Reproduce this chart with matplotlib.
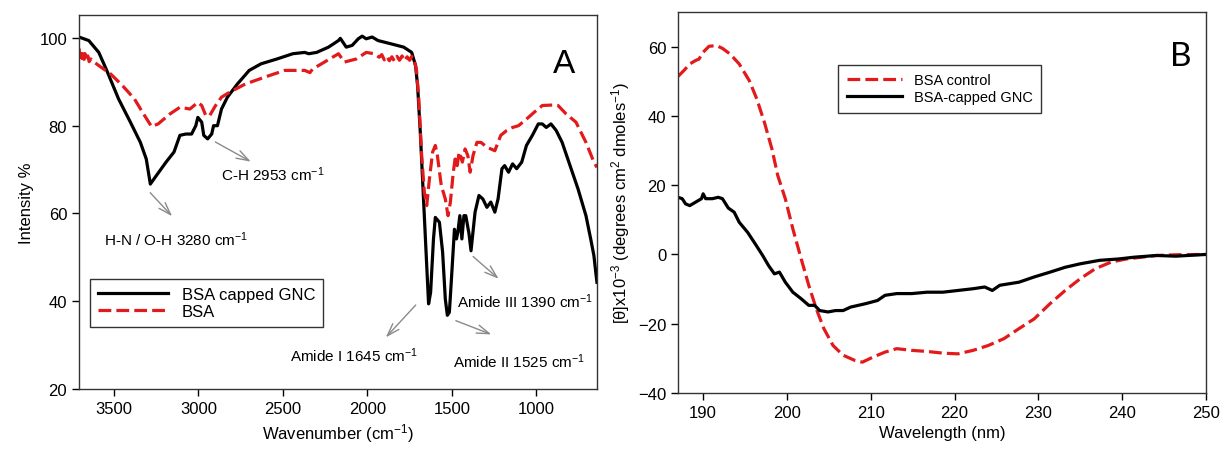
import numpy as np
import matplotlib
matplotlib.use("Agg")
import matplotlib.pyplot as plt

plt.rcParams['font.family'] = ['Liberation Sans', 'DejaVu Sans']
plt.rcParams['mathtext.default'] = 'regular'

## FTIR data (panel A)
wn_gnc = [3706, 3648, 3589, 3542, 3472, 3402, 3343, 3308, 3284, 3249, 3191, 3144, 3109, 3074,
          3040, 3015, 3003, 2980, 2968, 2945, 2921, 2910, 2887, 2863, 2828, 2769, 2699, 2629,
          2535, 2441, 2371, 2347, 2300, 2230, 2171, 2160, 2125, 2090, 2054, 2031, 2007, 1972,
          1937, 1855, 1785, 1738, 1715, 1703, 1687, 1668, 1649, 1638, 1626, 1609, 1598, 1574,
          1555, 1539, 1527, 1515, 1504, 1485, 1473, 1465, 1453, 1441, 1429, 1418, 1399, 1387,
          1363, 1340, 1317, 1293, 1270, 1246, 1227, 1204, 1188, 1165, 1141, 1117, 1087, 1059,
          1024, 989, 965, 942, 914, 883, 848, 801, 754, 707, 679, 660, 649, 642]
int_gnc = [100.2, 99.4, 96.7, 92.6, 86.1, 80.8, 76.2, 72.4, 66.7, 68.6, 71.7, 74.0, 77.8, 78.1,
           78.1, 80.0, 81.9, 80.8, 77.8, 77.0, 78.1, 80.0, 80.0, 83.8, 86.5, 89.5, 92.6, 94.1,
           95.2, 96.4, 96.7, 96.4, 96.7, 97.9, 99.4, 99.9, 97.9, 98.3, 99.8, 100.4, 99.8, 100.2,
           99.4, 98.6, 97.9, 96.7, 93.7, 89.1, 78.5, 63.3, 48.1, 39.4, 42.0, 54.2, 59.1, 58.0,
           51.2, 40.5, 36.8, 37.5, 44.3, 56.4, 54.2, 55.7, 59.5, 54.2, 59.5, 59.5, 55.4, 51.5,
           60.3, 64.1, 63.3, 61.4, 62.6, 60.3, 63.3, 70.2, 70.9, 69.4, 71.3, 70.2, 71.7, 75.5,
           77.8, 80.4, 80.4, 79.6, 80.4, 78.9, 76.2, 70.9, 65.6, 59.5, 54.2, 50.4, 46.6, 44.3]

wn_bsa = [3706, 3700, 3694, 3688, 3682, 3676, 3670, 3662, 3654, 3646, 3636, 3620, 3589, 3519,
          3448, 3378, 3331, 3277, 3238, 3167, 3109, 3050, 3003, 2980, 2956, 2933, 2898, 2863,
          2816, 2722, 2582, 2488, 2371, 2340, 2324, 2254, 2171, 2136, 2066, 2007, 1961, 1930,
          1915, 1900, 1885, 1870, 1855, 1840, 1825, 1810, 1795, 1780, 1765, 1750, 1738, 1726,
          1710, 1696, 1679, 1663, 1649, 1633, 1614, 1598, 1586, 1563, 1539, 1523, 1509, 1492,
          1481, 1469, 1457, 1438, 1422, 1406, 1392, 1375, 1352, 1328, 1293, 1246, 1211, 1176,
          1141, 1106, 1059, 1012, 965, 907, 872, 825, 766, 707, 660, 642]
int_bsa = [97.6, 95.6, 97.2, 95.3, 96.9, 95.1, 96.4, 94.9, 95.9, 94.6, 95.2, 94.6, 93.7, 91.8,
           89.1, 86.1, 83.1, 79.8, 80.4, 82.7, 84.2, 83.8, 85.3, 84.6, 82.3, 82.3, 84.6, 86.5,
           87.6, 89.5, 91.4, 92.6, 92.6, 92.1, 92.9, 94.5, 96.4, 94.5, 95.2, 96.7, 96.4, 95.6,
           96.2, 95.0, 95.8, 94.8, 95.7, 94.7, 95.8, 94.9, 95.9, 94.8, 95.7, 94.9, 95.8, 95.2,
           92.9, 86.1, 73.2, 64.8, 61.8, 67.9, 74.0, 75.5, 73.2, 66.4, 63.3, 59.5, 62.6, 69.4,
           72.4, 70.9, 74.0, 71.7, 74.7, 73.2, 69.4, 73.2, 76.2, 76.2, 75.1, 74.3, 77.8, 78.9,
           79.6, 80.0, 81.5, 83.1, 84.6, 84.7, 84.6, 82.7, 80.8, 76.2, 71.7, 70.5]

## CD data (panel B)
wl_ctrl = [187.0, 187.7, 188.4, 189.1, 189.5, 190.0, 190.7, 191.6, 192.3, 193.2, 194.3, 195.5,
           196.4, 197.3, 198.2, 198.9, 199.8, 200.7, 201.7, 202.6, 203.5, 204.4, 205.5, 206.7,
           208.1, 209.0, 210.3, 211.7, 213.1, 214.9, 216.7, 218.6, 220.4, 222.2, 224.0, 225.9,
           227.7, 229.5, 231.4, 233.2, 235.0, 236.8, 238.7, 240.5, 242.3, 244.1, 246.4, 250.0]
cd_ctrl = [51.4, 53.1, 55.0, 56.0, 56.4, 58.4, 60.1, 60.3, 59.5, 57.9, 55.0, 50.2,
           44.9, 38.2, 30.5, 22.8, 16.1, 7.4, -1.3, -8.9, -15.7, -21.4, -26.3, -29.1,
           -30.6, -31.1, -29.6, -28.2, -27.2, -27.7, -28.0, -28.5, -28.7, -27.7, -26.3, -24.3,
           -21.4, -18.6, -14.2, -10.4, -7.0, -4.1, -2.2, -1.3, -0.8, -0.3, -0.1, 0.0]

wl_gnc = [187.0, 187.5, 187.9, 188.4, 189.1, 189.8, 190.0, 190.3, 191.1, 191.8, 192.3, 193.0,
          193.7, 194.3, 195.3, 196.2, 197.1, 197.8, 198.5, 199.1, 199.8, 200.7, 201.7, 202.6,
          203.3, 203.9, 204.9, 205.8, 206.7, 207.6, 208.5, 209.4, 210.8, 211.7, 213.1, 214.9,
          216.7, 218.6, 220.4, 222.2, 223.6, 224.5, 225.4, 227.7, 229.5, 231.4, 233.2, 235.0,
          237.3, 239.6, 241.4, 244.1, 246.4, 250.0]
cd_gnc = [16.5, 16.1, 14.6, 14.1, 15.1, 16.1, 17.5, 16.1, 16.1, 16.5, 16.1, 13.4,
          12.2, 9.3, 6.4, 3.1, -0.3, -3.2, -5.6, -5.1, -8.0, -10.9, -12.8, -14.7,
          -14.7, -16.2, -16.6, -16.2, -16.2, -15.2, -14.7, -14.2, -13.3, -11.8, -11.3, -11.3,
          -10.9, -10.9, -10.4, -9.9, -9.4, -10.4, -8.9, -8.0, -6.5, -5.1, -3.7, -2.7,
          -1.7, -1.3, -0.8, -0.3, -0.5, 0.0]

red = '#e31a1c'
dash = (0, (4, 1.6))
fs = 12

fig = plt.figure(figsize=(12.21, 4.56), dpi=100)

# ---- panel A
axA = fig.add_axes([0.0647, 0.1447, 0.4242, 0.820])
axA.plot(wn_gnc, int_gnc, color='k', lw=2.3, label='BSA capped GNC')
axA.plot(wn_bsa, int_bsa, color=red, lw=2.3, ls=dash, label='BSA')
axA.set_xlim(3706, 642)
axA.set_ylim(20, 105.2)
axA.set_xticks([3500, 3000, 2500, 2000, 1500, 1000])
axA.set_yticks([20, 40, 60, 80, 100])
axA.set_xlabel('Wavenumber (cm$^{-1}$)', fontsize=fs)
axA.set_ylabel('Intensity %', fontsize=fs)
axA.text(836, 94.1, 'A', fontsize=24, ha='center', va='center')

arrow = dict(arrowstyle='->,head_length=0.9,head_width=0.3', color='#8a8a8a', lw=1)
notes = [('C-H 2953 cm$^{-1}$', (2914, 76.6), (2675, 71.5), (2558, 69.0)),
         ('H-N / O-H 3280 cm$^{-1}$', (3296, 65.2), (3144, 58.9), (3132, 54.2)),
         ('Amide I 1645 cm$^{-1}$', (1703, 39.6), (1902, 31.3), (2078, 27.8)),
         ('Amide II 1525 cm$^{-1}$', (1492, 35.8), (1251, 32.2), (1105, 26.5)),
         ('Amide III 1390 cm$^{-1}$', (1387, 50.6), (1211, 44.7), (1070, 40.2))]
for txt, p0, p1, pt in notes:
    axA.annotate('', xy=p1, xytext=p0, arrowprops=arrow)
    axA.text(pt[0], pt[1], txt, fontsize=11, ha='center', va='center')

legA = axA.legend(loc='lower left', bbox_to_anchor=(0.021, 0.166), borderaxespad=0,
                  fontsize=fs, handlelength=4.2, fancybox=False, edgecolor='#333333',
                  framealpha=1, borderpad=0.5, labelspacing=0.1)
legA.get_frame().set_linewidth(1)

# ---- panel B
axB = fig.add_axes([0.5553, 0.136, 0.4324, 0.8355])
axB.plot(wl_ctrl, cd_ctrl, color=red, lw=2.3, ls=dash, label='BSA control')
axB.plot(wl_gnc, cd_gnc, color='k', lw=2.3, label='BSA-capped GNC')
axB.set_xlim(187, 250)
axB.set_ylim(-40, 70)
axB.set_xticks([190, 200, 210, 220, 230, 240, 250])
axB.set_yticks([-40, -20, 0, 20, 40, 60])
axB.set_xlabel('Wavelength (nm)', fontsize=fs)
axB.set_ylabel('[\u03b8]x10$^{-3}$ (degrees cm$^{2}$ dmoles$^{-1}$)', fontsize=fs)
axB.text(247, 57.4, 'B', fontsize=24, ha='center', va='center', family=['Lato', 'DejaVu Sans'])
legB = axB.legend(loc='lower left', bbox_to_anchor=(0.303, 0.735), borderaxespad=0,
                  fontsize=10.5, handlelength=3.8, fancybox=False, edgecolor='#333333',
                  framealpha=1, borderpad=0.6, labelspacing=0.2)
legB.get_frame().set_linewidth(1)

for ax in (axA, axB):
    ax.tick_params(direction='out', length=5, width=1, labelsize=fs, top=False, right=False)
    for s in ax.spines.values():
        s.set_linewidth(1)
        s.set_color('#333333')

fig.savefig('out.png', dpi=100)
